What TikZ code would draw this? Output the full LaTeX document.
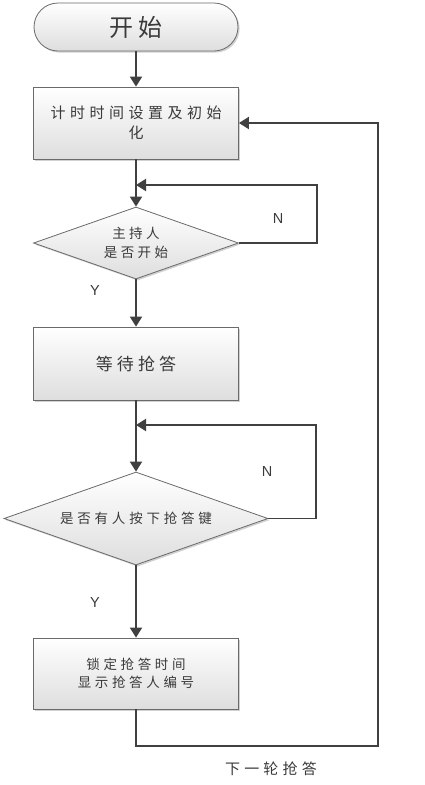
\documentclass[tikz,border=0pt]{standalone}
\usepackage{fontspec}
\setmainfont{Liberation Sans}
\newfontfamily\cjk{Noto Sans CJK SC}
\usetikzlibrary{arrows.meta,shapes.geometric,shadows}
\definecolor{linec}{HTML}{404040}
\definecolor{boxc}{HTML}{6A6A6A}
\definecolor{txtc}{HTML}{3A3A3A}
\tikzset{
  shapebase/.style={draw=boxc, line width=0.8pt, top color=white, bottom color=black!13,
     drop shadow={shadow xshift=1.6pt, shadow yshift=-1.6pt, fill=black!40, opacity=0.45},
     inner sep=0pt, align=center, text=txtc},
  startbox/.style={shapebase, rectangle, rounded corners=24pt, minimum width=204pt, minimum height=48pt},
  procbox/.style={shapebase, rectangle, minimum width=205pt},
  decide/.style={shapebase, diamond, aspect=2.84},
  conn/.style={draw=linec, line width=1.9pt, -{Triangle[length=10pt,width=12pt]}},
  yn/.style={font=\fontsize{14.5}{16}\selectfont, text=txtc, inner sep=0pt},
}
\begin{document}
\begin{tikzpicture}[x=1pt,y=-1pt]
\useasboundingbox (0,0) rectangle (425,785);
\node[startbox, font={\fontsize{24}{28}\cjk\addfontfeature{LetterSpace=20}}] (start) at (136,27) {开始};
\node[procbox, minimum height=72pt, font={\fontsize{15}{20}\cjk\addfontfeature{LetterSpace=30}}] (init) at (136,123) {计时时间设置及初始\\化};
\node[decide, minimum width=205pt, minimum height=72pt, font={\fontsize{13.5}{19}\cjk\addfontfeature{LetterSpace=25}}] (d1) at (136,243) {主持人\\是否开始};
\node[procbox, minimum height=73pt, font={\fontsize{17}{20}\cjk\addfontfeature{LetterSpace=24}}] (wait) at (136,363.5) {等待抢答};
\node[decide, minimum width=264pt, minimum height=93pt, font={\fontsize{13.5}{18}\cjk\addfontfeature{LetterSpace=28}}] (d2) at (136,518.5) {是否有人按下抢答键};
\node[procbox, minimum height=71pt, font={\fontsize{13.5}{18}\cjk\addfontfeature{LetterSpace=27}}] (lock) at (136,673.5) {锁定抢答时间\\显示抢答人编号};

\coordinate (j1) at (136,185);
\coordinate (j2) at (136,425);
\coordinate (r1) at (317,243);
\coordinate (r2) at (316,518.5);
\coordinate (cr) at (378,746);

\draw[conn] (start) -- (init);
\draw[conn] (init) -- (d1);
\draw[conn] (d1.east) -- (r1) |- (j1);
\draw[conn] (d1) -- (wait);
\draw[conn] (wait) -- (d2);
\draw[conn] (d2.east) -- (r2) |- (j2);
\draw[conn] (d2) -- (lock);
\draw[conn] (lock.south) |- (cr) |- (init.east);

\node[yn] (n1) at (278,219) {N};
\node[yn] (y1) at (95,291) {Y};
\node[yn] (n2) at (267,472) {N};
\node[yn] (y2) at (95,603) {Y};
\node[text=txtc, inner sep=0pt, font={\fontsize{15}{18}\cjk\addfontfeature{LetterSpace=28}}] (next) at (271,769) {下一轮抢答};
\end{tikzpicture}
\end{document}
